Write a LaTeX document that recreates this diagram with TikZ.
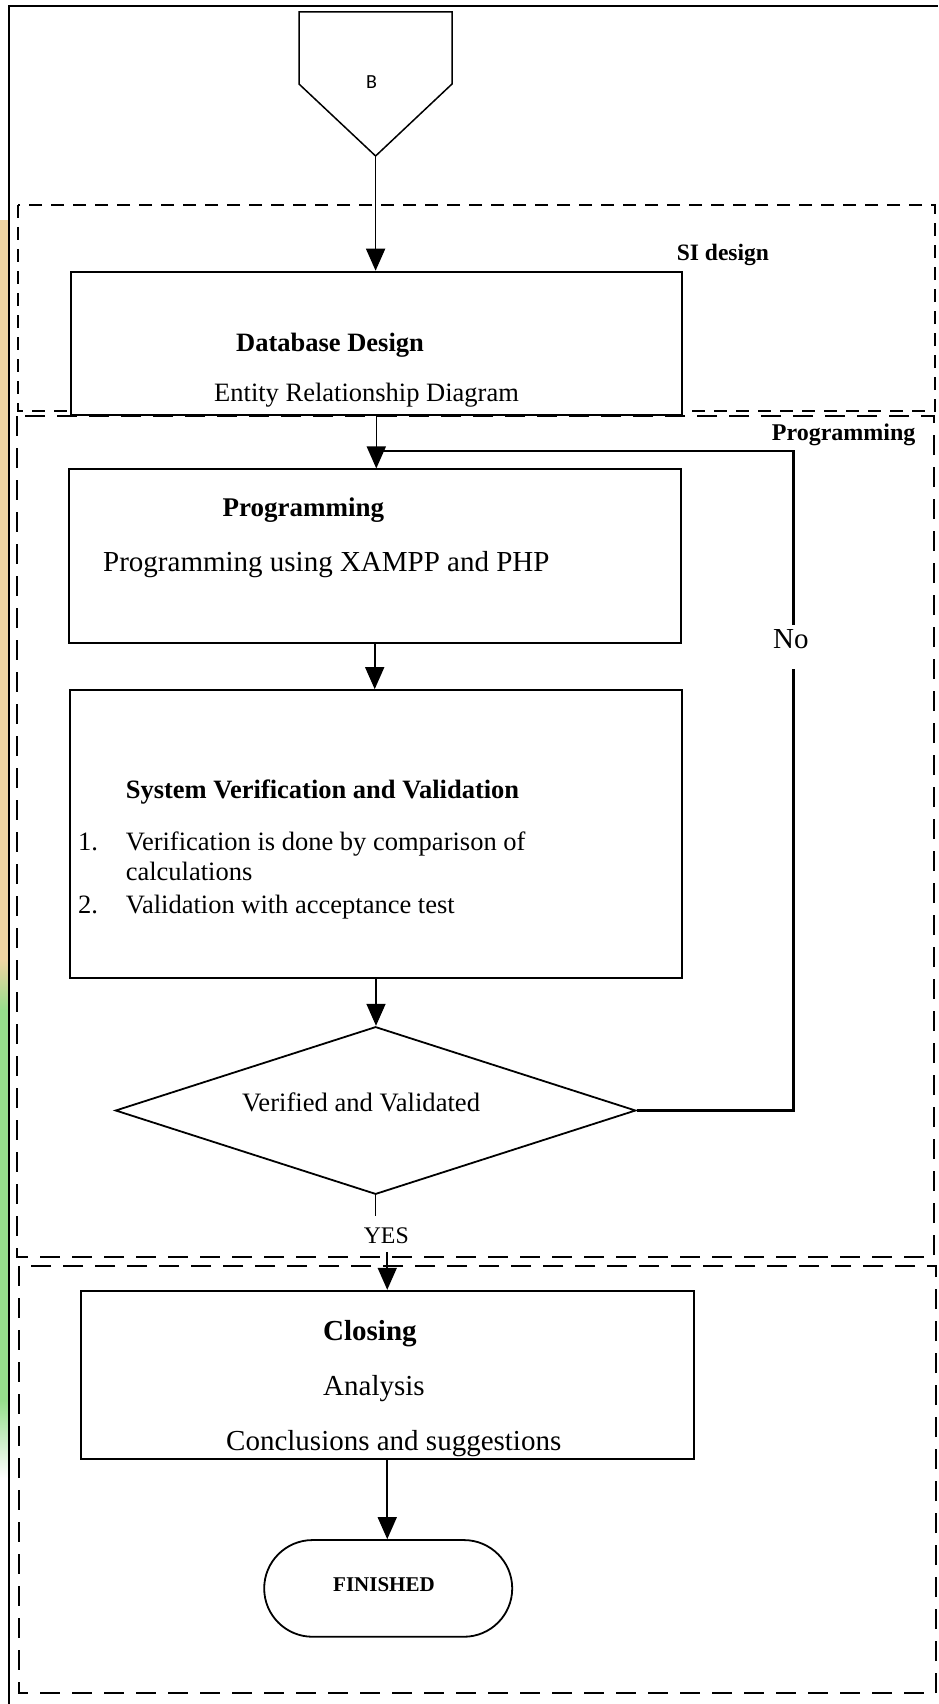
\documentclass[tikz,border=0pt]{standalone}
\usepackage{fontspec}
\setmainfont{Liberation Serif}
\newfontfamily\labelsans{Carlito}
\usetikzlibrary{arrows.meta,shapes.geometric,shapes.misc}

\newcommand\setsz[1]{\fontsize{#1pt}{#1pt}\selectfont}

\definecolor{stripTan}{RGB}{240,214,162}
\definecolor{stripGreen}{RGB}{150,222,140}

\begin{document}
\begin{tikzpicture}[x=1pt,y=-1pt,
  box/.style={draw, line width=1.8pt, fill=white, inner sep=0pt},
  flowarrow/.style={line width=1.6pt, -{Triangle[length=22pt,width=19pt]}},
  loopline/.style={line width=2.6pt},
  thinframe/.style={line width=1.2pt, dash pattern=on 13pt off 9pt},
  boldframe/.style={line width=1.9pt, dash pattern=on 20pt off 12pt},
  txt/.style={anchor=base west, inner sep=0pt},
]
\useasboundingbox (0,0) rectangle (938,1704);

% coloured page strip at the left edge
\fill[stripTan] (0,220) rectangle (8,960);
\shade[top color=stripTan, bottom color=stripGreen] (0,960) rectangle (8,1010);
\fill[stripGreen] (0,1010) rectangle (8,1400);
\shade[top color=stripGreen, bottom color=white] (0,1400) rectangle (8,1478);

% outer page border
\draw[line width=2.2pt] (9,1704) -- (9,6) -- (938,6);

% dashed stage frames
\draw[thinframe] (18,205) rectangle (935,411);
\draw[boldframe] (17,416) rectangle (934,1257);
\draw[boldframe] (19,1266) rectangle (936,1693);

% off-page connector
\draw[line width=1.5pt, line join=miter] (299,12) -- (452,12) -- (452,84) -- (375.6,156) -- (299,84) -- cycle;
\coordinate (btip) at (375.6,156);
\node[txt] (btext) at (366,88.3) {\labelsans\setsz{20}B};

% process boxes
\node[box, minimum width=611.4pt, minimum height=143.7pt] (db) at (376.3,343.5) {};
\node[box, minimum width=611.8pt, minimum height=173.7pt] (prog) at (374.7,556.2) {};
\node[box, minimum width=612pt, minimum height=288.3pt] (svv) at (376,834.2) {};
\node[diamond, draw, line width=1.8pt, fill=white, inner sep=0pt,
      minimum width=520.4pt, minimum height=167.6pt] (dec) at (375.6,1110.5) {};
\node[box, minimum width=613.1pt, minimum height=168.6pt] (close) at (387.25,1375) {};
\node[rounded rectangle, draw, line width=1.8pt, fill=white,
      minimum width=254.7pt, minimum height=96.7pt] (fin) at (388.2,1588.4) {};

% frame captions
\node[txt] (sitext) at (676.7,260.7) {\setsz{23.5}\bfseries SI design};
\node[txt] (proglbl) at (771.7,440) {\setsz{24}\bfseries Programming};

% box texts
\node[txt] (dbtitle) at (236,351.7) {\setsz{26.5}\bfseries Database Design};
\node[txt] (dbsub) at (214,401.7) {\setsz{26.5}Entity Relationship Diagram};

\node[txt] (progtitle) at (222.5,516.7) {\setsz{27}\bfseries Programming};
\node[txt] (progsub) at (103,571.7) {\setsz{29}Programming using XAMPP and PHP};

\node[txt] (svvtitle) at (125.6,798.3) {\setsz{26.5}\bfseries System Verification and Validation};
\node[txt] (num1) at (77.8,850) {\setsz{26.5}1.};
\node[txt] (item1) at (125.6,850) {\setsz{26.5}Verification is done by comparison of};
\node[txt] (item1b) at (125.6,880) {\setsz{26.5}calculations};
\node[txt] (num2) at (77.8,913.3) {\setsz{26.5}2.};
\node[txt] (item2) at (125.6,913.3) {\setsz{26.5}Validation with acceptance test};

\node[txt] (dectext) at (242,1111.7) {\setsz{26.6}Verified and Validated};

\node[txt] (closetitle) at (323,1340) {\setsz{29}\bfseries Closing};
\node[txt] (analysis) at (323,1395) {\setsz{29}Analysis};
\node[txt] (concl) at (226,1450) {\setsz{29}Conclusions and suggestions};

\node[txt] (fintext) at (333,1591.7) {\setsz{21}\bfseries FINISHED};

% branch labels (their boxes leave the gaps in the lines)
\node[txt, text height=23.3pt, text depth=20.7pt] (no) at (773,648.3) {\setsz{29}No};
\node[txt, text height=27.3pt, text depth=8.7pt] (yes) at (363.6,1243.3) {\setsz{23.8}YES};

% connectors
\draw[flowarrow] (btip) -- (btip |- db.north);
\draw[flowarrow] (db.south) -- (db.south |- prog.north);
\draw[flowarrow] (prog.south) -- (prog.south |- svv.north);
\draw[flowarrow] (svv.south) -- (svv.south |- dec.north);
\draw[line width=1.6pt] (dec.south) -- (dec.south |- yes.north);
\draw[flowarrow] (close.north |- yes.south) -- (close.north);
\draw[flowarrow] (close.south) -- (close.south |- fin.north);

% "No" loop back to the programming step
\coordinate (rt) at (793.6,1110.5);
\coordinate (join) at (375.6,451);
\draw[loopline] (dec.east) -- (rt) -- (rt |- no.south);
\draw[loopline] (rt |- no.north) -- (rt |- join) -- (join);
\end{tikzpicture}
\end{document}
